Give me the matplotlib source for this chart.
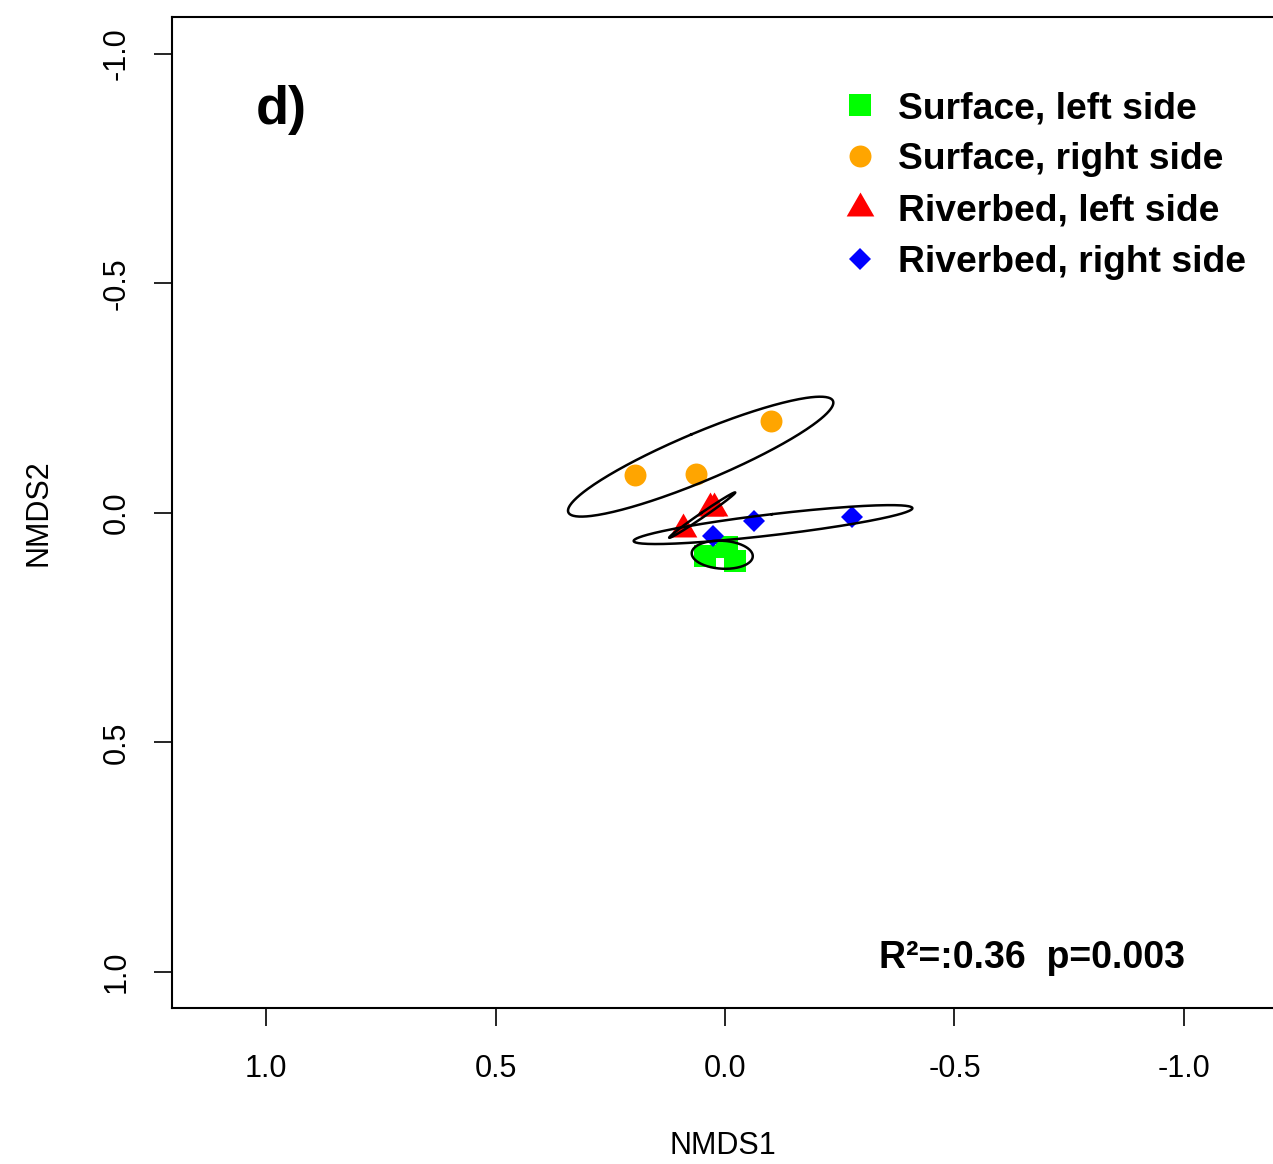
import numpy as np
import matplotlib
matplotlib.use("Agg")
import matplotlib.pyplot as plt
from matplotlib.path import Path

plt.rcParams['font.family'] = ['Liberation Sans', 'DejaVu Sans']

# NMDS scores
sl_x = [0.044, -0.004, -0.022]      # Surface, left side
sl_y = [0.094, 0.074, 0.105]
sr_x = [-0.100, 0.196, 0.063]       # Surface, right side
sr_y = [-0.200, -0.083, -0.085]
rl_x = [0.092, 0.033, 0.024]        # Riverbed, left side
rl_y = [0.034, -0.010, -0.010]
rr_x = [0.026, -0.063, -0.277]      # Riverbed, right side
rr_y = [0.050, 0.017, 0.009]

labels = ["Surface, left side", "Surface, right side",
          "Riverbed, left side", "Riverbed, right side"]
colors = ["#00ff00", "#ffa500", "#ff0000", "#0000ff"]
ticks = [1.0, 0.5, 0.0, -0.5, -1.0]
tick_labels = ["1.0", "0.5", "0.0", "-0.5", "-1.0"]
stat_text = "R\u00b2=:0.36  p=0.003"

# triangle centred like R's pch 17
tri = Path([(0, 1), (-0.866, -0.5), (0.866, -0.5), (0, 1)],
           [Path.MOVETO, Path.LINETO, Path.LINETO, Path.CLOSEPOLY])

W, H = 1273, 1164
fig = plt.figure(figsize=(W / 100, H / 100), dpi=100)
ax = fig.add_axes([172 / W, (H - 1008) / H, 1106 / W, 991 / H])

groups = [(sl_x, sl_y, 's', 15.8), (sr_x, sr_y, 'o', 15.8),
          (rl_x, rl_y, tri, 23), (rr_x, rr_y, 'D', 11.3)]
handles = []
for (gx, gy, m, ms), c, lab in zip(groups, colors, labels):
    h, = ax.plot(gx, gy, linestyle='none', marker=m, ms=ms, color=c,
                 markeredgewidth=0, label=lab, zorder=2)
    handles.append(h)

# ellipses from the covariance of each group
t = np.linspace(0, 2 * np.pi, 300)
for gx, gy, m, ms in groups:
    pts = np.column_stack([gx, gy])
    mu = pts.mean(axis=0)
    cov = np.cov(pts.T)
    vals, vecs = np.linalg.eigh(cov)
    vals = np.clip(vals, 0, None)
    circ = np.vstack([np.cos(t), np.sin(t)])
    e = vecs @ (np.sqrt(vals)[:, None] * circ) * 1.95
    ax.plot(mu[0] + e[0], mu[1] + e[1], color='black', lw=1.8, zorder=3)

ax.set_xlim(1.205, -1.205)
ax.set_ylim(1.0785, -1.0805)
ax.set_xticks(ticks)
ax.set_xticklabels(tick_labels, fontsize=22)
ax.set_yticks(ticks)
ax.set_yticklabels(tick_labels, fontsize=22, rotation=90, va='center')
ax.tick_params(axis='both', length=13, width=1.2, direction='out')
ax.tick_params(axis='x', pad=20)
ax.tick_params(axis='y', pad=16)
for s in ax.spines.values():
    s.set_linewidth(1.5)

ax.set_xlabel("NMDS1", fontsize=22)
ax.set_ylabel("NMDS2", fontsize=22)
ax.xaxis.set_label_coords((723 - 172) / 1106, (1008 - 1131) / 991)
ax.yaxis.set_label_coords((54 - 172) / 1106, 0.4995)

ax.legend(handles=handles, loc='upper left', frameon=False,
          bbox_to_anchor=(841 / W, 1 - 91 / H), bbox_transform=fig.transFigure,
          prop={'weight': 'bold', 'size': 26.8}, handlelength=1.0,
          handletextpad=0.52, labelspacing=0.44, borderpad=0, borderaxespad=0)

fig.text(256 / W, 1 - 124 / H, "d)", fontsize=39, fontweight='bold',
         ha='left', va='baseline')
fig.text(1185 / W, 1 - 968 / H, stat_text, fontsize=27, fontweight='bold',
         ha='right', va='baseline')

fig.savefig("out.png", dpi=100)
